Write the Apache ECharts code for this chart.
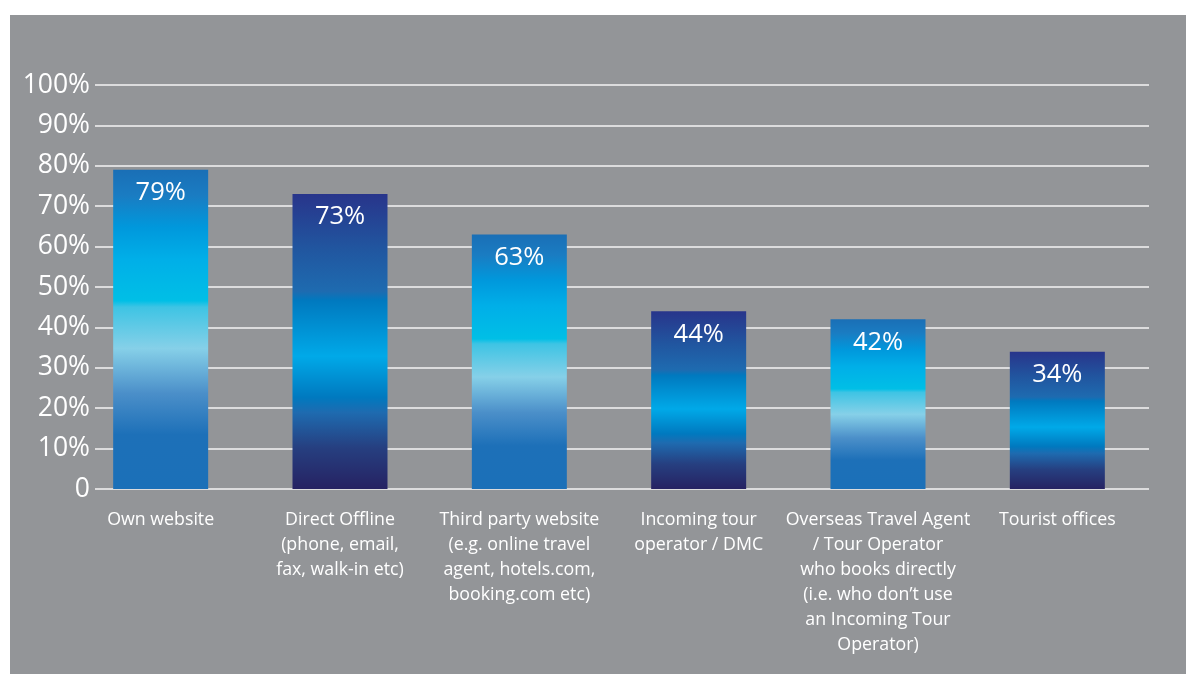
<!DOCTYPE html>
<html>
<head>
<meta charset="utf-8">
<script src="https://cdn.jsdelivr.net/npm/echarts@6/dist/echarts.min.js"></script>
<style>
  html, body { margin: 0; padding: 0; background: #fff; width: 1186px; height: 674px; overflow: hidden; }
  #chart { position: absolute; left: 10px; top: 15px; width: 1176px; height: 659px; background: #939598; }
</style>
</head>
<body>
<div id="chart"></div>
<script>
'use strict';
// booking channels and share of respondents (%)
var categories = [
    'Own website',
    'Direct Offline\n(phone, email,\nfax, walk-in etc)',
    'Third party website\n(e.g. online travel\nagent, hotels.com,\nbooking.com etc)',
    'Incoming tour\noperator / DMC',
    'Overseas Travel Agent\n/ Tour Operator\nwho books directly\n(i.e. who don\u2019t use\nan Incoming Tour\nOperator)',
    'Tourist offices'
];
var values = [79, 73, 63, 44, 42, 34];
var yTicks = [0, 10, 20, 30, 40, 50, 60, 70, 80, 90, 100];

var FONT = '"Open Sans", "Noto Sans", sans-serif';

// light and dark bar fills alternate, like the original artwork
function lightFill() {
    return new echarts.graphic.LinearGradient(0, 0, 0, 1, [
        {offset: 0, color: '#1a6fb6'},
        {offset: 0.08, color: '#1a7cc2'},
        {offset: 0.18, color: '#0098dc'},
        {offset: 0.28, color: '#00afe8'},
        {offset: 0.41, color: '#00bfe6'},
        {offset: 0.43, color: '#3ec4e4'},
        {offset: 0.56, color: '#86d0e8'},
        {offset: 0.70, color: '#4b8fc9'},
        {offset: 0.83, color: '#1d70b8'},
        {offset: 1, color: '#1b70b8'}
    ]);
}
function darkFill() {
    return new echarts.graphic.LinearGradient(0, 0, 0, 1, [
        {offset: 0, color: '#28358b'},
        {offset: 0.18, color: '#21559f'},
        {offset: 0.33, color: '#1e6bb0'},
        {offset: 0.36, color: '#0079bf'},
        {offset: 0.55, color: '#00a9e8'},
        {offset: 0.69, color: '#0079bf'},
        {offset: 0.74, color: '#1e6bb0'},
        {offset: 0.86, color: '#263f80'},
        {offset: 1, color: '#262262'}
    ]);
}

var barData = values.map(function (v, i) {
    return {value: v, itemStyle: {color: i % 2 === 0 ? lightFill() : darkFill()}};
});

var myChart = echarts.init(document.getElementById('chart'));
var option = {
    animation: false,
    backgroundColor: '#939598',
    grid: [
        {left: 85, right: 37, top: 70, bottom: 185},   // gridlines + value labels
        {left: 61, right: 39, top: 70, bottom: 185}    // bars + category labels
    ],
    xAxis: [
        {gridIndex: 0, type: 'value', show: false, min: 0, max: 1},
        {
            gridIndex: 1,
            type: 'category',
            data: categories,
            axisLine: {show: false},
            axisTick: {show: false},
            axisLabel: {
                color: '#ffffff',
                fontFamily: FONT,
                fontSize: 17.8,
                lineHeight: 25,
                margin: 18,
                interval: 0,
                verticalAlign: 'top'
            }
        }
    ],
    yAxis: [
        {
            gridIndex: 0,
            type: 'value',
            min: 0,
            max: 100,
            interval: 10,
            axisLine: {show: false},
            axisTick: {show: false},
            splitLine: {lineStyle: {color: '#f4f4f4', width: 1.6}},
            axisLabel: {
                color: '#ffffff',
                fontFamily: FONT,
                fontSize: 26.5,
                margin: 5,
                formatter: function (v) {
                    return yTicks.indexOf(v) < 0 ? '' : (v === 0 ? '0' : v + '%');
                }
            }
        },
        {gridIndex: 1, type: 'value', min: 0, max: 100, show: false}
    ],
    series: [{
        type: 'bar',
        xAxisIndex: 1,
        yAxisIndex: 1,
        barWidth: 95,
        data: barData,
        label: {
            show: true,
            position: 'insideTop',
            distance: 10,
            color: '#ffffff',
            fontFamily: FONT,
            fontSize: 25.5,
            formatter: '{c}%'
        }
    }]
};
myChart.setOption(option);
</script>
</body>
</html>
